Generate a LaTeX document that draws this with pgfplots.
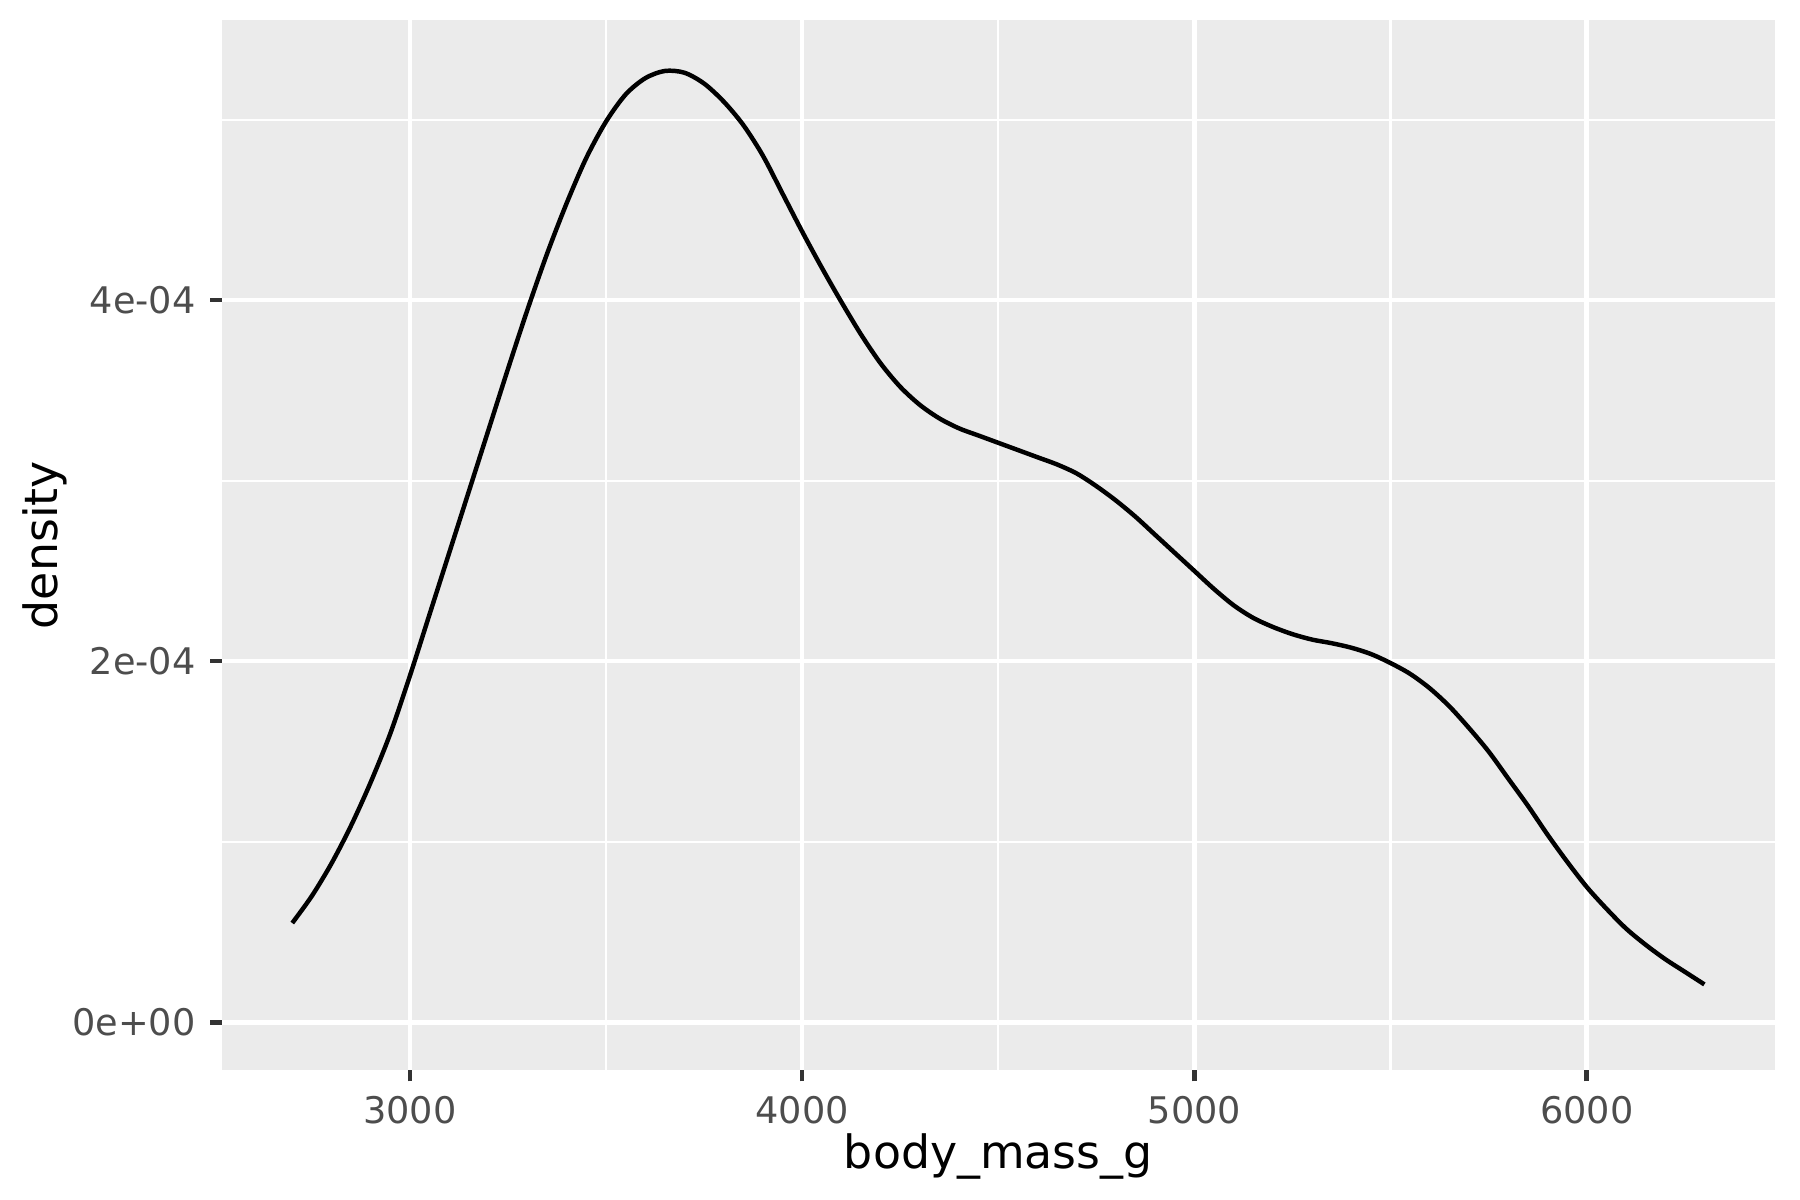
\documentclass[border=0pt]{standalone}
\usepackage{fontspec}
\setmainfont{DejaVu Sans}
\usepackage{pgfplots}
\pgfplotsset{compat=1.18}
\definecolor{panelbg}{HTML}{EBEBEB}
\definecolor{grey30}{HTML}{4D4D4D}
\definecolor{grey20}{HTML}{333333}
\begin{document}
\begin{tikzpicture}
\path[use as bounding box] (0,0) rectangle (432pt,288pt);
\begin{axis}[
  at={(53.2pt,31.2pt)}, anchor=south west,
  scale only axis,
  width=372.8pt, height=251.9pt,
  xmin=2520, xmax=6480,
  ymin=-0.264e-4, ymax=5.55e-4,
  axis background/.style={fill=panelbg},
  axis line style={draw=none},
  xtick={3000,4000,5000,6000},
  xticklabels={3000,4000,5000,6000},
  ytick={0,2e-4,4e-4},
  yticklabels={0e+00,2e-04,4e-04},
  minor xtick={3500,4500,5500},
  minor ytick={1e-4,3e-4,5e-4},
  scaled ticks=false,
  xtick pos=bottom, ytick pos=left,
  tick align=outside,
  major tick length=2.75pt,
  minor tick length=0pt,
  major tick style={grey20, line width=1.07pt},
  grid=both,
  major grid style={white, line width=1.07pt},
  minor grid style={white, line width=0.53pt},
  tick label style={font=\fontsize{8.8}{10}\selectfont, text=grey30},
  xlabel={body\_mass\_g},
  ylabel={density},
  label style={font=\fontsize{11}{13}\selectfont},
  xlabel style={at={(axis description cs:0.5,-0.0824)}, anchor=center},
  ylabel style={at={(axis description cs:-0.114,0.5)}, anchor=center},
  clip=false,
]
% kernel density of body_mass_g
\addplot[black, line width=1.07pt, smooth, tension=0.5] coordinates {
(2700,5.5e-5) (2750,7.0e-5) (2800,8.8e-5) (2850,1.09e-4) (2900,1.33e-4)
(2950,1.60e-4) (3000,1.92e-4) (3050,2.26e-4) (3100,2.60e-4) (3150,2.94e-4)
(3200,3.28e-4) (3250,3.62e-4) (3300,3.95e-4) (3350,4.26e-4) (3400,4.54e-4)
(3450,4.79e-4) (3500,4.99e-4) (3550,5.14e-4) (3600,5.23e-4) (3650,5.27e-4)
(3700,5.26e-4) (3750,5.20e-4) (3800,5.10e-4) (3850,4.97e-4) (3900,4.80e-4)
(3950,4.59e-4) (4000,4.38e-4) (4050,4.18e-4) (4100,3.99e-4) (4150,3.81e-4)
(4200,3.65e-4) (4250,3.52e-4) (4300,3.42e-4) (4350,3.345e-4) (4400,3.29e-4)
(4450,3.25e-4) (4500,3.21e-4) (4550,3.17e-4) (4600,3.13e-4) (4650,3.09e-4)
(4700,3.04e-4) (4750,2.97e-4) (4800,2.89e-4) (4850,2.80e-4) (4900,2.70e-4)
(4950,2.60e-4) (5000,2.50e-4) (5050,2.40e-4) (5100,2.31e-4) (5150,2.24e-4)
(5200,2.19e-4) (5250,2.15e-4) (5300,2.12e-4) (5350,2.10e-4) (5400,2.075e-4)
(5450,2.04e-4) (5500,1.99e-4) (5550,1.93e-4) (5600,1.85e-4) (5650,1.75e-4)
(5700,1.63e-4) (5750,1.50e-4) (5800,1.35e-4) (5850,1.20e-4) (5900,1.04e-4)
(5950,8.9e-5) (6000,7.5e-5) (6050,6.3e-5) (6100,5.2e-5) (6150,4.3e-5)
(6200,3.5e-5) (6250,2.8e-5) (6300,2.1e-5)
};
\end{axis}
\end{tikzpicture}
\end{document}
